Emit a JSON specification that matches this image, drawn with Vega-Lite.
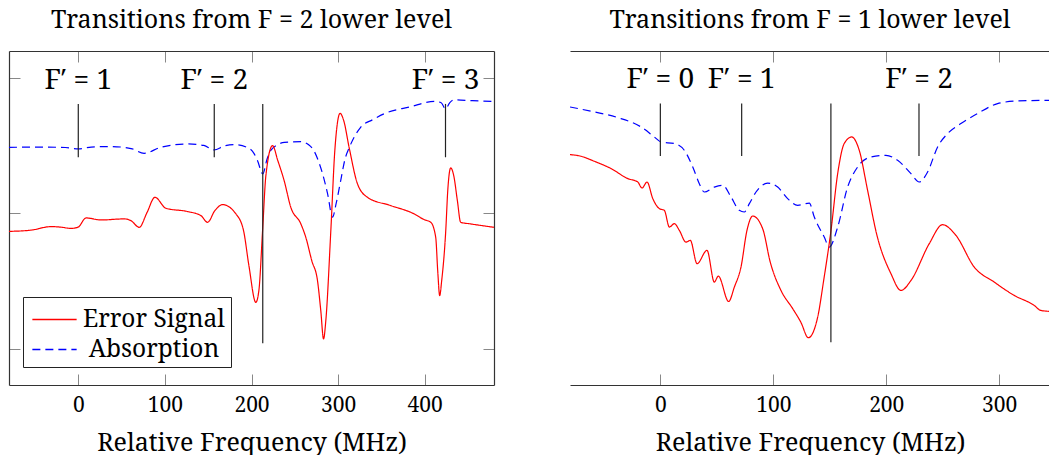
{
  "$schema": "https://vega.github.io/schema/vega-lite/v6.json",
  "padding": {"left": 8, "top": 7, "right": 0, "bottom": 0},
  "spacing": 75,
  "config": {
    "view": {"stroke": null},
    "font": "Noto Serif",
    "title": {"font": "Noto Serif", "fontSize": 25, "fontWeight": "normal", "color": "black", "offset": 18},
    "axis": {
      "domainColor": "#333", "domainWidth": 1.2,
      "tickColor": "#888", "tickSize": -11, "tickWidth": 1,
      "grid": false,
      "labelFont": "Noto Serif", "labelFontSize": 21, "labelColor": "black", "labelPadding": 20,
      "titleFont": "Noto Serif", "titleFontSize": 25, "titleFontWeight": "normal", "titleColor": "black", "titlePadding": 15
    },
    "text": {"font": "Noto Serif"}
  },
  "datasets": {
    "f2_traces": [
      {"series": "Absorption", "freq": -80, "signal": 0.486},
      {"series": "Absorption", "freq": -43, "signal": 0.488},
      {"series": "Absorption", "freq": -15, "signal": 0.485},
      {"series": "Absorption", "freq": 0, "signal": 0.475},
      {"series": "Absorption", "freq": 15, "signal": 0.488},
      {"series": "Absorption", "freq": 38, "signal": 0.492},
      {"series": "Absorption", "freq": 61, "signal": 0.477},
      {"series": "Absorption", "freq": 76, "signal": 0.442},
      {"series": "Absorption", "freq": 95, "signal": 0.486},
      {"series": "Absorption", "freq": 126, "signal": 0.511},
      {"series": "Absorption", "freq": 145, "signal": 0.5},
      {"series": "Absorption", "freq": 157, "signal": 0.467},
      {"series": "Absorption", "freq": 168, "signal": 0.495},
      {"series": "Absorption", "freq": 180, "signal": 0.506},
      {"series": "Absorption", "freq": 195, "signal": 0.486},
      {"series": "Absorption", "freq": 203, "signal": 0.44},
      {"series": "Absorption", "freq": 207, "signal": 0.388},
      {"series": "Absorption", "freq": 213, "signal": 0.29},
      {"series": "Absorption", "freq": 218, "signal": 0.4},
      {"series": "Absorption", "freq": 222, "signal": 0.462},
      {"series": "Absorption", "freq": 230, "signal": 0.505},
      {"series": "Absorption", "freq": 238, "signal": 0.523},
      {"series": "Absorption", "freq": 257, "signal": 0.528},
      {"series": "Absorption", "freq": 266, "signal": 0.505},
      {"series": "Absorption", "freq": 272, "signal": 0.462},
      {"series": "Absorption", "freq": 277, "signal": 0.39},
      {"series": "Absorption", "freq": 282, "signal": 0.293},
      {"series": "Absorption", "freq": 288, "signal": 0.14},
      {"series": "Absorption", "freq": 293.5, "signal": -0.029},
      {"series": "Absorption", "freq": 298, "signal": 0.08},
      {"series": "Absorption", "freq": 303, "signal": 0.241},
      {"series": "Absorption", "freq": 308, "signal": 0.4},
      {"series": "Absorption", "freq": 313, "signal": 0.486},
      {"series": "Absorption", "freq": 326, "signal": 0.634},
      {"series": "Absorption", "freq": 340, "signal": 0.69},
      {"series": "Absorption", "freq": 353, "signal": 0.733},
      {"series": "Absorption", "freq": 384, "signal": 0.786},
      {"series": "Absorption", "freq": 411, "signal": 0.825},
      {"series": "Absorption", "freq": 419, "signal": 0.815},
      {"series": "Absorption", "freq": 424, "signal": 0.769},
      {"series": "Absorption", "freq": 429, "signal": 0.815},
      {"series": "Absorption", "freq": 434, "signal": 0.836},
      {"series": "Absorption", "freq": 455, "signal": 0.83},
      {"series": "Absorption", "freq": 480, "signal": 0.825},
      {"series": "Error Signal", "freq": -80, "signal": -0.133},
      {"series": "Error Signal", "freq": -54.6, "signal": -0.124},
      {"series": "Error Signal", "freq": -31.5, "signal": -0.098},
      {"series": "Error Signal", "freq": -20, "signal": -0.102},
      {"series": "Error Signal", "freq": -8.4, "signal": -0.111},
      {"series": "Error Signal", "freq": -0.3, "signal": -0.102},
      {"series": "Error Signal", "freq": 9, "signal": -0.034},
      {"series": "Error Signal", "freq": 26.2, "signal": -0.049},
      {"series": "Error Signal", "freq": 53.1, "signal": -0.041},
      {"series": "Error Signal", "freq": 60.8, "signal": -0.054},
      {"series": "Error Signal", "freq": 70.4, "signal": -0.103},
      {"series": "Error Signal", "freq": 79.3, "signal": 0.005},
      {"series": "Error Signal", "freq": 88.5, "signal": 0.118},
      {"series": "Error Signal", "freq": 101.2, "signal": 0.037},
      {"series": "Error Signal", "freq": 126.2, "signal": 0.013},
      {"series": "Error Signal", "freq": 141.6, "signal": -0.017},
      {"series": "Error Signal", "freq": 149.3, "signal": -0.066},
      {"series": "Error Signal", "freq": 157.7, "signal": 0.02},
      {"series": "Error Signal", "freq": 166.6, "signal": 0.064},
      {"series": "Error Signal", "freq": 182, "signal": -0.004},
      {"series": "Error Signal", "freq": 190.8, "signal": -0.127},
      {"series": "Error Signal", "freq": 197, "signal": -0.385},
      {"series": "Error Signal", "freq": 205, "signal": -0.656},
      {"series": "Error Signal", "freq": 208.5, "signal": -0.57},
      {"series": "Error Signal", "freq": 212.8, "signal": -0.127},
      {"series": "Error Signal", "freq": 216.6, "signal": 0.278},
      {"series": "Error Signal", "freq": 224.3, "signal": 0.499},
      {"series": "Error Signal", "freq": 230.4, "signal": 0.388},
      {"series": "Error Signal", "freq": 237.7, "signal": 0.241},
      {"series": "Error Signal", "freq": 245.4, "signal": 0.044},
      {"series": "Error Signal", "freq": 257, "signal": -0.078},
      {"series": "Error Signal", "freq": 262.7, "signal": -0.177},
      {"series": "Error Signal", "freq": 269.6, "signal": -0.349},
      {"series": "Error Signal", "freq": 276.2, "signal": -0.496},
      {"series": "Error Signal", "freq": 280, "signal": -0.717},
      {"series": "Error Signal", "freq": 283.2, "signal": -0.926},
      {"series": "Error Signal", "freq": 285.8, "signal": -0.791},
      {"series": "Error Signal", "freq": 291.6, "signal": -0.127},
      {"series": "Error Signal", "freq": 296.2, "signal": 0.462},
      {"series": "Error Signal", "freq": 302.3, "signal": 0.737},
      {"series": "Error Signal", "freq": 306.5, "signal": 0.683},
      {"series": "Error Signal", "freq": 312.7, "signal": 0.486},
      {"series": "Error Signal", "freq": 322.4, "signal": 0.217},
      {"series": "Error Signal", "freq": 333.9, "signal": 0.118},
      {"series": "Error Signal", "freq": 360.8, "signal": 0.057},
      {"series": "Error Signal", "freq": 387.7, "signal": -0.004},
      {"series": "Error Signal", "freq": 399.2, "signal": -0.046},
      {"series": "Error Signal", "freq": 407, "signal": -0.066},
      {"series": "Error Signal", "freq": 412.7, "signal": -0.177},
      {"series": "Error Signal", "freq": 415, "signal": -0.422},
      {"series": "Error Signal", "freq": 417.3, "signal": -0.606},
      {"series": "Error Signal", "freq": 419.6, "signal": -0.496},
      {"series": "Error Signal", "freq": 424.3, "signal": -0.127},
      {"series": "Error Signal", "freq": 426.6, "signal": 0.167},
      {"series": "Error Signal", "freq": 430, "signal": 0.335},
      {"series": "Error Signal", "freq": 433.5, "signal": 0.278},
      {"series": "Error Signal", "freq": 437.7, "signal": 0.094},
      {"series": "Error Signal", "freq": 441.5, "signal": -0.066},
      {"series": "Error Signal", "freq": 453, "signal": -0.078},
      {"series": "Error Signal", "freq": 480, "signal": -0.103}
    ],
    "f1_traces": [
      {"series": "Absorption", "freq": -80, "signal": 0.941},
      {"series": "Absorption", "freq": -58.4, "signal": 0.899},
      {"series": "Absorption", "freq": -37.7, "signal": 0.851},
      {"series": "Absorption", "freq": -17.1, "signal": 0.771},
      {"series": "Absorption", "freq": -5.3, "signal": 0.686},
      {"series": "Absorption", "freq": 0.6, "signal": 0.643},
      {"series": "Absorption", "freq": 12.4, "signal": 0.63},
      {"series": "Absorption", "freq": 21.2, "signal": 0.573},
      {"series": "Absorption", "freq": 28.7, "signal": 0.431},
      {"series": "Absorption", "freq": 34.5, "signal": 0.289},
      {"series": "Absorption", "freq": 38.9, "signal": 0.218},
      {"series": "Absorption", "freq": 47.8, "signal": 0.26},
      {"series": "Absorption", "freq": 55.2, "signal": 0.275},
      {"series": "Absorption", "freq": 62.6, "signal": 0.175},
      {"series": "Absorption", "freq": 69.9, "signal": 0.062},
      {"series": "Absorption", "freq": 74.3, "signal": 0.048},
      {"series": "Absorption", "freq": 78.8, "signal": 0.119},
      {"series": "Absorption", "freq": 84.7, "signal": 0.218},
      {"series": "Absorption", "freq": 95, "signal": 0.294},
      {"series": "Absorption", "freq": 103.9, "signal": 0.26},
      {"series": "Absorption", "freq": 112.7, "signal": 0.162},
      {"series": "Absorption", "freq": 121.6, "signal": 0.105},
      {"series": "Absorption", "freq": 131.9, "signal": 0.124},
      {"series": "Absorption", "freq": 136.3, "signal": 0.005},
      {"series": "Absorption", "freq": 145.1, "signal": -0.165},
      {"series": "Absorption", "freq": 149.6, "signal": -0.25},
      {"series": "Absorption", "freq": 157, "signal": -0.08},
      {"series": "Absorption", "freq": 165.8, "signal": 0.26},
      {"series": "Absorption", "freq": 174.7, "signal": 0.431},
      {"series": "Absorption", "freq": 186.5, "signal": 0.516},
      {"series": "Absorption", "freq": 199.7, "signal": 0.53},
      {"series": "Absorption", "freq": 210.1, "signal": 0.488},
      {"series": "Absorption", "freq": 221.9, "signal": 0.374},
      {"series": "Absorption", "freq": 229.2, "signal": 0.303},
      {"series": "Absorption", "freq": 236.6, "signal": 0.388},
      {"series": "Absorption", "freq": 245.5, "signal": 0.601},
      {"series": "Absorption", "freq": 254.3, "signal": 0.715},
      {"series": "Absorption", "freq": 266.1, "signal": 0.8},
      {"series": "Absorption", "freq": 280.9, "signal": 0.885},
      {"series": "Absorption", "freq": 298.6, "signal": 0.97},
      {"series": "Absorption", "freq": 316.3, "signal": 0.992},
      {"series": "Absorption", "freq": 345, "signal": 0.998},
      {"series": "Error Signal", "freq": -80, "signal": 0.536},
      {"series": "Error Signal", "freq": -70.2, "signal": 0.522},
      {"series": "Error Signal", "freq": -58.4, "signal": 0.479},
      {"series": "Error Signal", "freq": -43.6, "signal": 0.417},
      {"series": "Error Signal", "freq": -28.8, "signal": 0.332},
      {"series": "Error Signal", "freq": -20, "signal": 0.303},
      {"series": "Error Signal", "freq": -16.2, "signal": 0.252},
      {"series": "Error Signal", "freq": -11.8, "signal": 0.303},
      {"series": "Error Signal", "freq": -6.7, "signal": 0.162},
      {"series": "Error Signal", "freq": -0.9, "signal": 0.077},
      {"series": "Error Signal", "freq": 3.5, "signal": 0.062},
      {"series": "Error Signal", "freq": 8, "signal": -0.08},
      {"series": "Error Signal", "freq": 12.4, "signal": -0.051},
      {"series": "Error Signal", "freq": 16.8, "signal": -0.108},
      {"series": "Error Signal", "freq": 22.7, "signal": -0.208},
      {"series": "Error Signal", "freq": 26.5, "signal": -0.193},
      {"series": "Error Signal", "freq": 32.5, "signal": -0.391},
      {"series": "Error Signal", "freq": 41.3, "signal": -0.278},
      {"series": "Error Signal", "freq": 47.8, "signal": -0.548},
      {"series": "Error Signal", "freq": 51.3, "signal": -0.497},
      {"series": "Error Signal", "freq": 60.5, "signal": -0.713},
      {"series": "Error Signal", "freq": 65.5, "signal": -0.591},
      {"series": "Error Signal", "freq": 71.4, "signal": -0.42},
      {"series": "Error Signal", "freq": 76.7, "signal": -0.108},
      {"series": "Error Signal", "freq": 81.8, "signal": 0.014},
      {"series": "Error Signal", "freq": 90.6, "signal": -0.094},
      {"series": "Error Signal", "freq": 97.3, "signal": -0.378},
      {"series": "Error Signal", "freq": 106.8, "signal": -0.619},
      {"series": "Error Signal", "freq": 117.2, "signal": -0.774},
      {"series": "Error Signal", "freq": 124.5, "signal": -0.891},
      {"series": "Error Signal", "freq": 131, "signal": -1.021},
      {"series": "Error Signal", "freq": 139.3, "signal": -0.846},
      {"series": "Error Signal", "freq": 144.6, "signal": -0.534},
      {"series": "Error Signal", "freq": 151.1, "signal": -0.108},
      {"series": "Error Signal", "freq": 157, "signal": 0.374},
      {"series": "Error Signal", "freq": 162.8, "signal": 0.63},
      {"series": "Error Signal", "freq": 169.4, "signal": 0.686},
      {"series": "Error Signal", "freq": 176.1, "signal": 0.573},
      {"series": "Error Signal", "freq": 183.5, "signal": 0.232},
      {"series": "Error Signal", "freq": 191.8, "signal": -0.151},
      {"series": "Error Signal", "freq": 204.2, "signal": -0.477},
      {"series": "Error Signal", "freq": 213, "signal": -0.619},
      {"series": "Error Signal", "freq": 221.9, "signal": -0.534},
      {"series": "Error Signal", "freq": 238.1, "signal": -0.221},
      {"series": "Error Signal", "freq": 249.9, "signal": -0.06},
      {"series": "Error Signal", "freq": 261.7, "signal": -0.151},
      {"series": "Error Signal", "freq": 277.9, "signal": -0.42},
      {"series": "Error Signal", "freq": 295.6, "signal": -0.548},
      {"series": "Error Signal", "freq": 313.3, "signal": -0.661},
      {"series": "Error Signal", "freq": 331, "signal": -0.746},
      {"series": "Error Signal", "freq": 336.9, "signal": -0.789},
      {"series": "Error Signal", "freq": 345, "signal": -0.797}
    ],
    "f2_levels": [
      {"freq": 0, "label": "F′ = 1"},
      {"freq": 157, "label": "F′ = 2"},
      {"freq": 424, "label": "F′ = 3"}
    ],
    "f2_lock": [{"freq": 213}],
    "f1_levels": [
      {"freq": 0, "label": "F′ = 0"},
      {"freq": 72, "label": "F′ = 1"},
      {"freq": 229, "label": "F′ = 2"}
    ],
    "f1_lock": [{"freq": 151}]
  },
  "hconcat": [
    {
      "title": "Transitions from F = 2 lower level",
      "width": 485,
      "height": 334,
      "layer": [
        {
          "data": {"name": "f2_traces"},
          "mark": {"type": "line", "interpolate": "monotone", "strokeWidth": 1.2, "clip": true},
          "encoding": {
            "x": {"field": "freq", "type": "quantitative",
                  "scale": {"domain": [-80, 480], "nice": false, "zero": false},
                  "axis": {"orient": "bottom", "values": [0, 100, 200, 300, 400], "title": "Relative Frequency (MHz)"}},
            "y": {"field": "signal", "type": "quantitative",
                  "scale": {"domain": [-1.265, 1.196], "nice": false, "zero": false},
                  "axis": {"orient": "left", "values": [-1, 0, 1], "labels": false, "title": null}},
            "color": {"field": "series", "type": "nominal",
                      "scale": {"domain": ["Error Signal", "Absorption"], "range": ["#ff0000", "#0000ff"]},
                      "legend": {"orient": "none", "legendX": 14, "legendY": 246, "title": null,
                                 "symbolType": "M-1.4,0H1.4", "symbolSize": 1000, "symbolStrokeWidth": 1.3,
                                 "symbolOffset": 9,
                                 "labelFont": "Noto Serif", "labelFontSize": 24.5, "labelColor": "black",
                                 "labelAlign": "center", "labelOffset": 83, "labelLimit": 0,
                                 "strokeColor": "#222", "fillColor": "white", "padding": 6, "rowPadding": 2,
                                 "encode": {"symbols": {"update": {"strokeDash": {"signal": "datum.value === 'Absorption' ? [8, 5] : [1, 0]"}}}}}},
            "strokeDash": {"field": "series", "type": "nominal",
                           "scale": {"domain": ["Error Signal", "Absorption"], "range": [[1, 0], [8, 5]]},
                           "legend": null}
          }
        },
        {
          "data": {"name": "f2_levels"},
          "mark": {"type": "rule", "color": "#222", "strokeWidth": 1.2},
          "encoding": {
            "x": {"field": "freq", "type": "quantitative",
                  "scale": {"domain": [-80, 480], "nice": false, "zero": false},
                  "axis": {"orient": "top", "values": [0, 100, 200, 300, 400], "labels": false, "title": null}},
            "y": {"datum": 0.413, "type": "quantitative",
                  "scale": {"domain": [-1.265, 1.196], "nice": false, "zero": false},
                  "axis": {"orient": "right", "values": [-1, 0, 1], "labels": false, "title": null}},
            "y2": {"datum": 0.806}
          }
        },
        {
          "data": {"name": "f2_lock"},
          "mark": {"type": "rule", "color": "#222", "strokeWidth": 1.2},
          "encoding": {
            "x": {"field": "freq", "type": "quantitative", "scale": {"domain": [-80, 480], "nice": false, "zero": false}, "axis": null},
            "y": {"datum": -0.958, "type": "quantitative", "scale": {"domain": [-1.265, 1.196], "nice": false, "zero": false}, "axis": null},
            "y2": {"datum": 0.806}
          }
        },
        {
          "data": {"name": "f2_levels"},
          "mark": {"type": "text", "fontSize": 28, "align": "center", "baseline": "alphabetic", "color": "black"},
          "encoding": {
            "x": {"field": "freq", "type": "quantitative", "scale": {"domain": [-80, 480], "nice": false, "zero": false}, "axis": null},
            "y": {"datum": 0.919, "type": "quantitative", "scale": {"domain": [-1.265, 1.196], "nice": false, "zero": false}, "axis": null},
            "text": {"field": "label"}
          }
        }
      ]
    },
    {
      "title": "Transitions from F = 1 lower level",
      "width": 480,
      "height": 334,
      "layer": [
        {
          "data": {"name": "f1_traces"},
          "mark": {"type": "line", "interpolate": "monotone", "strokeWidth": 1.2, "clip": true},
          "encoding": {
            "x": {"field": "freq", "type": "quantitative",
                  "scale": {"domain": [-80, 345], "nice": false, "zero": false},
                  "axis": {"orient": "bottom", "values": [0, 100, 200, 300], "title": "Relative Frequency (MHz)"}},
            "y": {"field": "signal", "type": "quantitative",
                  "scale": {"domain": [-1.423, 1.417], "nice": false, "zero": false},
                  "axis": {"orient": "left", "values": [-1, 0, 1], "labels": false, "title": null}},
            "color": {"field": "series", "type": "nominal",
                      "scale": {"domain": ["Error Signal", "Absorption"], "range": ["#ff0000", "#0000ff"]},
                      "legend": null},
            "strokeDash": {"field": "series", "type": "nominal",
                           "scale": {"domain": ["Error Signal", "Absorption"], "range": [[1, 0], [8, 5]]},
                           "legend": null}
          }
        },
        {
          "data": {"name": "f1_levels"},
          "mark": {"type": "rule", "color": "#222", "strokeWidth": 1.2},
          "encoding": {
            "x": {"field": "freq", "type": "quantitative",
                  "scale": {"domain": [-80, 345], "nice": false, "zero": false},
                  "axis": {"orient": "top", "values": [0, 100, 200, 300], "labels": false, "title": null}},
            "y": {"datum": 0.524, "type": "quantitative",
                  "scale": {"domain": [-1.423, 1.417], "nice": false, "zero": false}, "axis": null},
            "y2": {"datum": 0.97}
          }
        },
        {
          "data": {"name": "f1_lock"},
          "mark": {"type": "rule", "color": "#222", "strokeWidth": 1.2},
          "encoding": {
            "x": {"field": "freq", "type": "quantitative", "scale": {"domain": [-80, 345], "nice": false, "zero": false}, "axis": null},
            "y": {"datum": -1.059, "type": "quantitative", "scale": {"domain": [-1.423, 1.417], "nice": false, "zero": false}, "axis": null},
            "y2": {"datum": 0.97}
          }
        },
        {
          "data": {"name": "f1_levels"},
          "mark": {"type": "text", "fontSize": 28, "align": "center", "baseline": "alphabetic", "color": "black"},
          "encoding": {
            "x": {"field": "freq", "type": "quantitative", "scale": {"domain": [-80, 345], "nice": false, "zero": false}, "axis": null},
            "y": {"datum": 1.103, "type": "quantitative", "scale": {"domain": [-1.423, 1.417], "nice": false, "zero": false}, "axis": null},
            "text": {"field": "label"}
          }
        }
      ]
    }
  ]
}
